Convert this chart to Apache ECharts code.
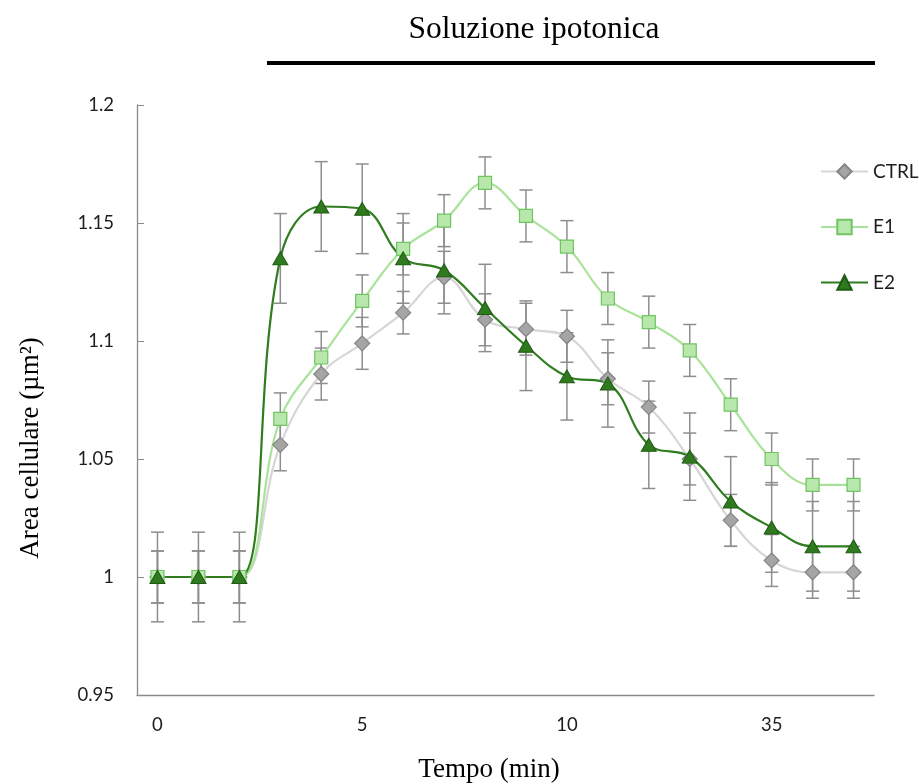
<!DOCTYPE html>
<html>
<head>
<meta charset="UTF-8">
<title>Area cellulare</title>
<script src="https://cdn.jsdelivr.net/npm/echarts@6/dist/echarts.min.js"></script>
<style>
	html, body { margin: 0; padding: 0; background: #fff; }
	#chart { width: 919px; height: 784px; }
</style>
</head>
<body>
	<div id="chart"></div>
	<script type="text/javascript">
		// tempo (min)
		var categories = [ '0', '1', '2', '3', '4', '5', '6', '7', '8', '9',
				'10', '15', '20', '25', '30', '35', '40', '45' ];

		var ctrlValues = [ 1.000, 1.000, 1.000, 1.056, 1.086, 1.099, 1.112,
				1.127, 1.109, 1.105, 1.102, 1.084, 1.072, 1.050, 1.024, 1.007,
				1.002, 1.002 ];
		var e1Values = [ 1.000, 1.000, 1.000, 1.067, 1.093, 1.117, 1.139,
				1.151, 1.167, 1.153, 1.140, 1.118, 1.108, 1.096, 1.073, 1.050,
				1.039, 1.039 ];
		var e2Values = [ 1.000, 1.000, 1.000, 1.135, 1.157, 1.156, 1.135,
				1.130, 1.114, 1.098, 1.085, 1.082, 1.056, 1.051, 1.032, 1.021,
				1.013, 1.013 ];

		// errore standard
		var ctrlErr = [ 0.011, 0.011, 0.011, 0.011, 0.011, 0.011, 0.009,
				0.011, 0.011, 0.011, 0.011, 0.011, 0.011, 0.011, 0.011, 0.011,
				0.011, 0.011 ];
		var e1Err = [ 0.011, 0.011, 0.011, 0.011, 0.011, 0.011, 0.011, 0.011,
				0.011, 0.011, 0.011, 0.011, 0.011, 0.011, 0.011, 0.011, 0.011,
				0.011 ];
		var e2Err = [ 0.019, 0.019, 0.019, 0.019, 0.019, 0.019, 0.019, 0.0185,
				0.0185, 0.019, 0.0185, 0.0185, 0.0185, 0.0185, 0.019, 0.019,
				0.019, 0.019 ];

		var yTicks = [ 0.95, 1.2, 0.05 ]; // min, max, interval

		function errorBars(values, errors) {
			var data = [];
			for (var i = 0; i < values.length; i++) {
				data.push([ i, values[i] + errors[i], values[i] - errors[i] ]);
			}
			return {
				type : 'custom',
				silent : true,
				renderItem : function(params, api) {
					var top = api.coord([ api.value(0), api.value(1) ]);
					var bot = api.coord([ api.value(0), api.value(2) ]);
					var w = 6.5;
					var st = {
						stroke : '#8e8e8e',
						lineWidth : 1.5
					};
					return {
						type : 'group',
						children : [ {
							type : 'line',
							shape : { x1 : top[0], y1 : top[1], x2 : bot[0], y2 : bot[1] },
							style : st
						}, {
							type : 'line',
							shape : { x1 : top[0] - w, y1 : top[1], x2 : top[0] + w, y2 : top[1] },
							style : st
						}, {
							type : 'line',
							shape : { x1 : bot[0] - w, y1 : bot[1], x2 : bot[0] + w, y2 : bot[1] },
							style : st
						} ]
					};
				},
				encode : {
					x : 0,
					y : [ 1, 2 ]
				},
				data : data
			};
		}

		var chart = echarts.init(document.getElementById('chart'));

		chart.setOption({
			animation : false,
			title : {
				text : 'Soluzione ipotonica',
				left : 529,
				top : 9,
				textAlign : 'center',
				textStyle : {
					fontFamily : 'Liberation Serif',
					fontWeight : 'normal',
					fontSize : 31.5,
					color : '#000'
				}
			},
			graphic : [ {
				type : 'rect',
				shape : { x : 267, y : 61, width : 608, height : 4 },
				style : { fill : '#000' }
			}, {
				type : 'text',
				x : 31,
				y : 448,
				rotation : Math.PI / 2,
				style : {
					text : 'Area cellulare (µm²)',
					font : '27px "Liberation Serif"',
					fill : '#000',
					textAlign : 'center',
					textVerticalAlign : 'middle'
				}
			}, {
				type : 'text',
				x : 489,
				y : 770,
				style : {
					text : 'Tempo (min)',
					font : '27px "Liberation Serif"',
					fill : '#000',
					textAlign : 'center',
					textVerticalAlign : 'middle'
				}
			} ],
			legend : {
				orient : 'vertical',
				left : 815,
				top : 157,
				itemWidth : 47,
				itemHeight : 18,
				itemGap : 36.5,
				data : [ 'CTRL', 'E1', 'E2' ],
				textStyle : {
					fontFamily : 'Lato',
					fontSize : 19,
					color : '#1e1e1e',
					padding : [ 0, 0, 0, 0 ]
				}
			},
			grid : {
				left : 137,
				right : 45,
				top : 105,
				bottom : 89
			},
			xAxis : {
				type : 'category',
				data : categories,
				boundaryGap : true,
				axisLine : {
					lineStyle : { color : '#8a8a8a', width : 1.3 }
				},
				axisTick : {
					interval : 0,
					length : 7,
					lineStyle : { color : '#8a8a8a' }
				},
				axisLabel : {
					interval : 4,
					margin : 21,
					fontFamily : 'Lato',
					fontSize : 18.5,
					color : '#1e1e1e'
				},
				splitLine : { show : false }
			},
			yAxis : {
				type : 'value',
				min : yTicks[0],
				max : yTicks[1],
				interval : yTicks[2],
				axisLine : {
					show : true,
					lineStyle : { color : '#8a8a8a', width : 1.3 }
				},
				axisTick : {
					show : true,
					inside : true,
					length : 7,
					lineStyle : { color : '#8a8a8a' }
				},
				axisLabel : {
					margin : 23,
					fontFamily : 'Lato',
					fontSize : 18.5,
					color : '#1e1e1e'
				},
				splitLine : { show : false }
			},
			series : [ errorBars(ctrlValues, ctrlErr), errorBars(e1Values, e1Err),
					errorBars(e2Values, e2Err), {
						name : 'CTRL',
						type : 'line',
						smooth : 0.4,
						smoothConstraint : false,
						data : ctrlValues,
						symbol : 'diamond',
						symbolSize : 15,
						lineStyle : { color : '#d6d6d6', width : 2.2 },
						itemStyle : {
							color : '#a5a5a5',
							borderColor : '#858585',
							borderWidth : 1.2
						}
					}, {
						name : 'E1',
						type : 'line',
						smooth : 0.4,
						smoothConstraint : false,
						data : e1Values,
						symbol : 'rect',
						symbolSize : 13,
						lineStyle : { color : '#a9e39b', width : 2.2 },
						itemStyle : {
							color : '#b7e7ab',
							borderColor : '#70c462',
							borderWidth : 1.2
						}
					}, {
						name : 'E2',
						type : 'line',
						smooth : 0.4,
						smoothConstraint : false,
						data : e2Values,
						symbol : 'triangle',
						symbolSize : [ 15, 13 ],
						lineStyle : { color : '#2f7d1f', width : 2.2 },
						itemStyle : {
							color : '#2f7a1f',
							borderColor : '#1f5a12',
							borderWidth : 1
						}
					} ]
		});
	</script>
</body>
</html>
